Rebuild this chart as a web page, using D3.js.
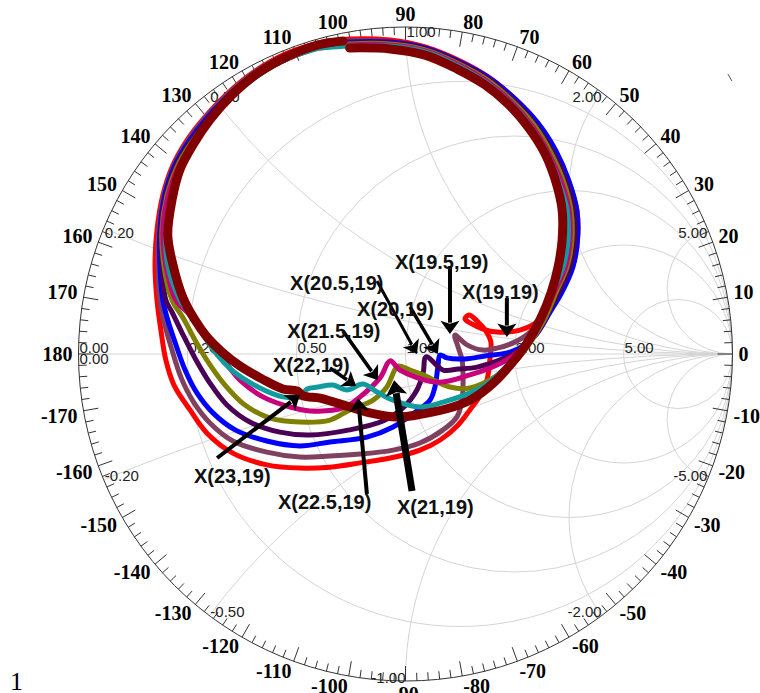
<!DOCTYPE html>
<html>
<head>
<meta charset="utf-8">
<script src="https://cdn.jsdelivr.net/npm/d3@7"></script>
<style>
  body { margin: 0; background: #fff; }
  svg { display: block; }
</style>
</head>
<body>
<svg id="chart" width="760" height="693"></svg>
<script>
// grid values of the Smith chart
const resistanceGrid = [0.2, 0.5, 1, 2, 5];
const reactanceGrid = [0.2, 0.5, 1, 2, 5, -0.2, -0.5, -1, -2, -5];
const resistanceLabels = [0, 0.2, 0.5, 1, 2, 5];
const reactanceLabels = [0, 0.2, 0.5, 1, 2, 5, -0.2, -0.5, -1, -2, -5];
const angleLabels = d3.range(-170, 181, 10);

const curveRed = [[-0.268,0.951],[-0.171,0.963],[-0.047,0.960],[0.060,0.939],[0.167,0.896],[0.258,0.844],[0.335,0.780],[0.402,0.709],[0.457,0.624],[0.497,0.532],[0.524,0.440],[0.526,0.349],[0.512,0.272],[0.482,0.205],[0.442,0.156],[0.402,0.098],[0.350,0.073],[0.280,0.067],[0.237,0.076],[0.203,0.092],[0.182,0.107],[0.194,0.119],[0.219,0.101],[0.246,0.070],[0.261,0.037],[0.258,-0.018],[0.249,-0.080],[0.228,-0.128],[0.197,-0.171],[0.161,-0.217],[0.106,-0.263],[0.044,-0.294],[-0.032,-0.315],[-0.139,-0.333],[-0.231,-0.346],[-0.323,-0.349],[-0.424,-0.339],[-0.528,-0.303],[-0.607,-0.242],[-0.659,-0.171],[-0.708,-0.095],[-0.733,-0.018],[-0.748,0.073],[-0.760,0.165],[-0.766,0.272],[-0.760,0.379],[-0.742,0.486],[-0.711,0.578],[-0.668,0.654],[-0.613,0.725],[-0.543,0.798],[-0.460,0.865],[-0.368,0.917],[-0.268,0.951]];
const curveMauve = [[-0.261,0.948],[-0.171,0.957],[-0.047,0.954],[0.060,0.933],[0.167,0.890],[0.258,0.838],[0.332,0.774],[0.396,0.703],[0.451,0.618],[0.492,0.526],[0.518,0.440],[0.521,0.349],[0.506,0.272],[0.476,0.202],[0.442,0.144],[0.411,0.104],[0.381,0.067],[0.329,0.034],[0.280,0.018],[0.237,0.012],[0.188,0.028],[0.151,0.058],[0.161,0.021],[0.173,-0.018],[0.176,-0.070],[0.173,-0.141],[0.157,-0.193],[0.115,-0.232],[0.044,-0.272],[-0.038,-0.294],[-0.139,-0.306],[-0.231,-0.312],[-0.323,-0.315],[-0.424,-0.300],[-0.528,-0.266],[-0.598,-0.211],[-0.650,-0.144],[-0.686,-0.073],[-0.714,0.012],[-0.736,0.089],[-0.751,0.165],[-0.757,0.272],[-0.754,0.379],[-0.739,0.486],[-0.708,0.578],[-0.665,0.654],[-0.610,0.725],[-0.540,0.798],[-0.457,0.865],[-0.365,0.914],[-0.261,0.948]];
const curveBlue = [[-0.261,0.945],[-0.171,0.954],[-0.047,0.954],[0.060,0.936],[0.167,0.893],[0.261,0.841],[0.338,0.777],[0.405,0.706],[0.460,0.621],[0.500,0.529],[0.524,0.440],[0.526,0.349],[0.512,0.266],[0.479,0.190],[0.442,0.128],[0.405,0.067],[0.365,0.028],[0.320,0.006],[0.243,-0.006],[0.182,-0.015],[0.127,-0.012],[0.106,-0.003],[0.099,-0.040],[0.090,-0.101],[0.075,-0.141],[0.035,-0.174],[-0.038,-0.223],[-0.118,-0.254],[-0.231,-0.269],[-0.323,-0.281],[-0.424,-0.266],[-0.521,-0.232],[-0.589,-0.180],[-0.638,-0.119],[-0.674,-0.049],[-0.702,0.028],[-0.727,0.104],[-0.742,0.165],[-0.751,0.272],[-0.751,0.379],[-0.736,0.486],[-0.705,0.578],[-0.662,0.651],[-0.607,0.722],[-0.537,0.795],[-0.454,0.862],[-0.362,0.911],[-0.261,0.945]];
const curvePurple = [[-0.261,0.942],[-0.171,0.951],[-0.047,0.951],[0.060,0.933],[0.167,0.890],[0.258,0.838],[0.332,0.774],[0.396,0.703],[0.451,0.618],[0.492,0.526],[0.515,0.440],[0.518,0.349],[0.503,0.266],[0.470,0.190],[0.433,0.119],[0.396,0.055],[0.350,0.012],[0.289,-0.018],[0.219,-0.040],[0.161,-0.046],[0.115,-0.049],[0.063,-0.009],[0.054,-0.058],[0.035,-0.110],[-0.008,-0.165],[-0.069,-0.205],[-0.171,-0.232],[-0.292,-0.248],[-0.384,-0.239],[-0.476,-0.208],[-0.546,-0.156],[-0.598,-0.089],[-0.644,-0.012],[-0.683,0.064],[-0.714,0.128],[-0.733,0.165],[-0.745,0.272],[-0.748,0.379],[-0.733,0.483],[-0.702,0.575],[-0.659,0.648],[-0.604,0.719],[-0.534,0.792],[-0.451,0.859],[-0.359,0.908],[-0.261,0.942]];
const curveOlive = [[-0.261,0.939],[-0.171,0.948],[-0.047,0.948],[0.060,0.930],[0.164,0.887],[0.255,0.835],[0.329,0.771],[0.393,0.700],[0.445,0.615],[0.485,0.523],[0.506,0.440],[0.509,0.349],[0.494,0.266],[0.460,0.187],[0.427,0.110],[0.387,0.043],[0.335,-0.024],[0.274,-0.070],[0.197,-0.104],[0.136,-0.101],[0.054,-0.064],[0.014,-0.049],[-0.023,-0.037],[-0.057,-0.101],[-0.099,-0.141],[-0.171,-0.171],[-0.231,-0.202],[-0.323,-0.208],[-0.414,-0.196],[-0.491,-0.156],[-0.552,-0.095],[-0.604,-0.024],[-0.644,0.043],[-0.680,0.110],[-0.714,0.165],[-0.739,0.272],[-0.745,0.379],[-0.730,0.483],[-0.699,0.572],[-0.656,0.645],[-0.601,0.716],[-0.531,0.789],[-0.448,0.856],[-0.356,0.905],[-0.261,0.939]];
const curveMagenta = [[-0.261,0.936],[-0.171,0.945],[-0.047,0.945],[0.060,0.927],[0.164,0.884],[0.252,0.832],[0.326,0.768],[0.387,0.697],[0.439,0.612],[0.479,0.520],[0.500,0.440],[0.503,0.349],[0.489,0.266],[0.454,0.187],[0.421,0.110],[0.381,0.043],[0.320,-0.012],[0.258,-0.043],[0.197,-0.064],[0.096,-0.086],[-0.017,-0.049],[-0.047,-0.021],[-0.078,-0.073],[-0.139,-0.131],[-0.191,-0.165],[-0.292,-0.174],[-0.353,-0.162],[-0.436,-0.131],[-0.506,-0.080],[-0.561,-0.012],[-0.613,0.058],[-0.659,0.119],[-0.702,0.165],[-0.733,0.272],[-0.742,0.379],[-0.727,0.480],[-0.696,0.569],[-0.653,0.642],[-0.598,0.713],[-0.530,0.789],[-0.448,0.856],[-0.356,0.905],[-0.261,0.939]];
const curveTeal = [[-0.261,0.936],[-0.171,0.942],[-0.047,0.942],[0.060,0.924],[0.161,0.881],[0.249,0.829],[0.323,0.765],[0.384,0.694],[0.436,0.609],[0.472,0.517],[0.494,0.440],[0.497,0.349],[0.482,0.266],[0.448,0.187],[0.411,0.104],[0.365,0.028],[0.304,-0.043],[0.243,-0.095],[0.197,-0.119],[0.115,-0.147],[0.044,-0.162],[-0.038,-0.141],[-0.087,-0.116],[-0.130,-0.092],[-0.179,-0.110],[-0.222,-0.095],[-0.268,-0.101],[-0.301,-0.107],[-0.323,-0.131],[-0.375,-0.131],[-0.445,-0.104],[-0.528,-0.052],[-0.583,0.006],[-0.628,0.073],[-0.665,0.128],[-0.690,0.165],[-0.727,0.272],[-0.733,0.379],[-0.718,0.474],[-0.689,0.563],[-0.648,0.639],[-0.595,0.713],[-0.528,0.789],[-0.446,0.855],[-0.354,0.906],[-0.261,0.936]];
const curveMaroon = [[-0.191,0.957],[-0.268,0.945],[-0.359,0.911],[-0.451,0.859],[-0.531,0.792],[-0.598,0.716],[-0.650,0.639],[-0.690,0.563],[-0.714,0.471],[-0.727,0.364],[-0.711,0.272],[-0.680,0.171],[-0.644,0.104],[-0.607,0.052],[-0.561,0.006],[-0.506,-0.037],[-0.439,-0.076],[-0.375,-0.107],[-0.332,-0.113],[-0.313,-0.128],[-0.261,-0.135],[-0.209,-0.150],[-0.109,-0.180],[-0.026,-0.193],[0.054,-0.183],[0.145,-0.162],[0.203,-0.138],[0.265,-0.092],[0.320,-0.034],[0.372,0.034],[0.414,0.110],[0.445,0.187],[0.466,0.263],[0.479,0.349],[0.479,0.440],[0.460,0.526],[0.427,0.612],[0.375,0.694],[0.313,0.765],[0.243,0.823],[0.157,0.872],[0.060,0.914],[-0.047,0.933],[-0.171,0.936]];

const traces = [curveRed, curveMauve, curveBlue, curvePurple, curveOlive, curveMagenta, curveTeal, curveMaroon];
const traceColors = ["#ff0000", "#804060", "#0000ff", "#4a0055", "#808000", "#c8007c", "#119b9e", "#800000"];
const traceWidths = [5, 5, 5, 5, 5, 5, 5, 9];

// annotations: label text, label anchor, arrow tail and tip (reflection coefficient)
const noteText = ["X(19,19)", "X(19.5,19)", "X(20,19)", "X(20.5,19)", "X(21.5,19)", "X(22,19)", "X(23,19)", "X(22.5,19)", "X(21,19)"];
const notePos = [[0.173,0.190],[-0.032,0.281],[-0.148,0.138],[-0.353,0.217],[-0.362,0.070],[-0.405,-0.034],[-0.647,-0.373],[-0.390,-0.453],[-0.026,-0.468]];
const arrowFrom = [[0.310,0.171],[0.136,0.269],[0.014,0.144],[-0.087,0.223],[-0.191,0.070],[-0.231,-0.043],[-0.576,-0.318],[-0.118,-0.428],[0.020,-0.419]];
const arrowTo = [[0.310,0.052],[0.136,0.061],[0.099,0.000],[0.035,0.000],[-0.084,-0.080],[-0.151,-0.098],[-0.323,-0.125],[-0.145,-0.135],[-0.035,-0.080]];
const arrowWidths = [4, 4, 3.5, 3, 3.5, 3.5, 4, 4, 7];

// small stray stroke near the top right of the ring
const strayMark = [[0.986,0.856],[0.998,0.835]];

const svg = d3.select("#chart");
const cx = 405.5, cy = 354, R = 327;
const x = d3.scaleLinear().domain([-1, 1]).range([cx - R, cx + R]);
const y = d3.scaleLinear().domain([-1, 1]).range([cy + R, cy - R]);
const unit = x(1) - x(0);

svg.append("defs").append("clipPath").attr("id", "unit")
  .append("circle").attr("cx", x(0)).attr("cy", y(0)).attr("r", R);

// grid
const grid = svg.append("g").attr("clip-path", "url(#unit)")
  .attr("fill", "none").attr("stroke", "#d4d4d4").attr("stroke-width", 1);

grid.selectAll(".rc").data(resistanceGrid).enter().append("circle")
  .attr("cx", r => x(r / (1 + r))).attr("cy", y(0))
  .attr("r", r => unit / (1 + r));

grid.selectAll(".xc").data(reactanceGrid).enter().append("circle")
  .attr("cx", x(1)).attr("cy", v => y(1 / v))
  .attr("r", v => unit / Math.abs(v));

grid.append("line").attr("x1", x(-1)).attr("x2", x(1)).attr("y1", y(0)).attr("y2", y(0));

// outer ring and angle ticks
svg.append("circle").attr("cx", x(0)).attr("cy", y(0)).attr("r", R)
  .attr("fill", "none").attr("stroke", "#333").attr("stroke-width", 1);

const ticks = d3.range(-178, 181, 2);
svg.append("g").attr("stroke", "#333").attr("stroke-width", 1)
  .selectAll("line").data(ticks).enter().append("line")
  .each(function (a) {
    const t = a * Math.PI / 180;
    const len = (a % 10 === 0) ? 15 : 8;
    const inner = 1 - len / R;
    d3.select(this)
      .attr("x1", x(Math.cos(t))).attr("y1", y(Math.sin(t)))
      .attr("x2", x(inner * Math.cos(t))).attr("y2", y(inner * Math.sin(t)));
  });

svg.append("line")
  .attr("x1", x(strayMark[0][0])).attr("y1", y(strayMark[0][1]))
  .attr("x2", x(strayMark[1][0])).attr("y2", y(strayMark[1][1]))
  .attr("stroke", "#555").attr("stroke-width", 1);

svg.append("g")
  .attr("font-family", "'Liberation Serif', 'Times New Roman', serif")
  .attr("font-weight", "bold").attr("font-size", 20).attr("fill", "#000")
  .selectAll("text").data(angleLabels).enter().append("text")
  .each(function (a) {
    const t = a * Math.PI / 180;
    const c = Math.cos(t), s = Math.sin(t);
    const rr = 1 + 6 / R;
    const anchor = Math.abs(c) < 0.02 ? "middle" : (c > 0 ? "start" : "end");
    const shift = Math.abs(c) < 0.02 ? 7 : 4;
    const dy = s > 0.01 ? -shift : (s < -0.01 ? shift : 0);
    d3.select(this)
      .attr("x", x(rr * c)).attr("y", y(rr * s) + dy)
      .attr("text-anchor", anchor).attr("dominant-baseline", "central")
      .text(a);
  });

// grid value labels
const gridText = svg.append("g")
  .attr("font-family", "'Liberation Sans', Arial, sans-serif")
  .attr("font-size", 15).attr("fill", "#222");

gridText.selectAll(".rl").data(resistanceLabels).enter().append("text")
  .attr("x", r => x((r - 1) / (r + 1)) + 1).attr("y", y(0) - 1)
  .text(r => r.toFixed(2));

gridText.selectAll(".xl").data(reactanceLabels).enter().append("text")
  .each(function (v) {
    const d = v * v + 1;
    const gr = (v * v - 1) / d, gi = 2 * v / d;
    let anchor = "start";
    if (Math.abs(v) > 1 || v === -1) anchor = "end";
    d3.select(this)
      .attr("x", x(gr) + (anchor === "start" ? 1 : 0))
      .attr("y", v === 0 ? y(0) + 10 : y(gi) + (v > 0 ? 4 : -4))
      .attr("text-anchor", anchor)
      .attr("dominant-baseline", v === 0 ? "auto" : "central")
      .text(v.toFixed(2));
  });

// traces
const line = d3.line()
  .x(d => x(d[0])).y(d => y(d[1]))
  .curve(d3.curveCatmullRom.alpha(0.5));

svg.append("g").selectAll("path").data(traces).enter().append("path")
  .attr("d", line)
  .attr("fill", "none")
  .attr("stroke", (d, i) => traceColors[i])
  .attr("stroke-width", (d, i) => traceWidths[i])
  .attr("stroke-linejoin", "round")
  .attr("stroke-linecap", "round");

// annotation arrows
const notes = svg.append("g");
arrowFrom.forEach((f, i) => {
  const x1 = x(f[0]), y1 = y(f[1]);
  const x2 = x(arrowTo[i][0]), y2 = y(arrowTo[i][1]);
  const dx = x2 - x1, dy = y2 - y1, d = Math.hypot(dx, dy);
  const ux = dx / d, uy = dy / d;
  const L = 11 + arrowWidths[i] * 0.6, hw = 8 + arrowWidths[i] * 0.4;
  const bx = x2 - ux * L, by = y2 - uy * L;
  notes.append("line")
    .attr("x1", x1).attr("y1", y1).attr("x2", bx + ux * 2).attr("y2", by + uy * 2)
    .attr("stroke", "#000").attr("stroke-width", arrowWidths[i]);
  notes.append("path")
    .attr("d", `M${x2},${y2}L${bx - uy * hw},${by + ux * hw}L${bx + ux * 3},${by + uy * 3}L${bx + uy * hw},${by - ux * hw}Z`)
    .attr("fill", "#000");
});

notes.selectAll("text").data(noteText).enter().append("text")
  .attr("x", (t, i) => x(notePos[i][0]))
  .attr("y", (t, i) => y(notePos[i][1]))
  .attr("dominant-baseline", "central")
  .attr("font-family", "'Liberation Sans', Arial, sans-serif")
  .attr("font-weight", "bold").attr("font-size", 20)
  .attr("fill", "#111")
  .text(t => t);

// stray figure number in the lower left corner
svg.append("text").attr("x", 10).attr("y", 690)
  .attr("font-family", "'Liberation Serif', 'Times New Roman', serif")
  .attr("font-size", 26).attr("fill", "#000").text("1");
</script>
</body>
</html>
